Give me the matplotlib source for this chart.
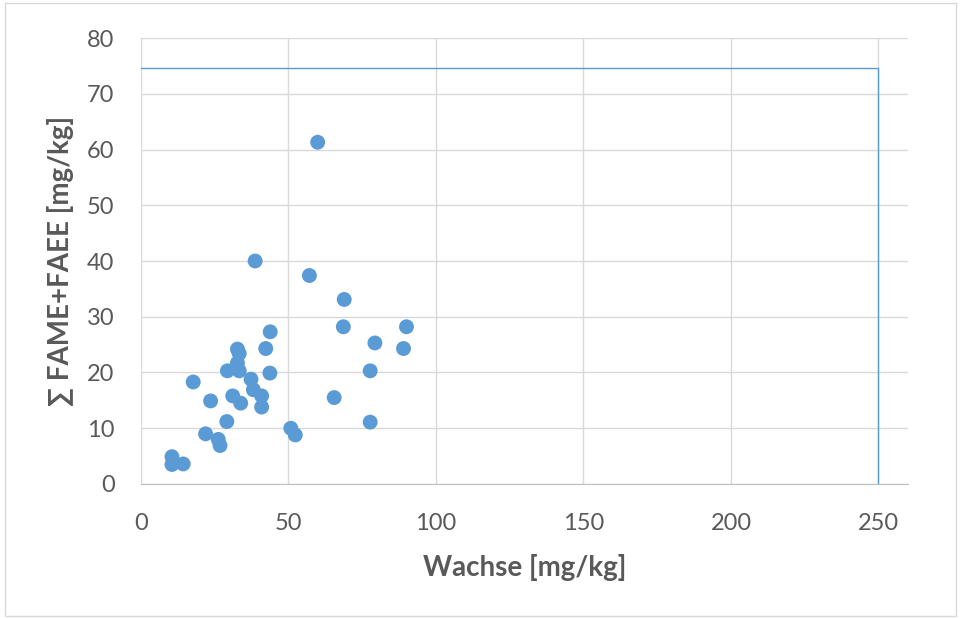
import matplotlib.pyplot as plt
from matplotlib.patches import Rectangle

# -----------------------------
# DATA
# -----------------------------
wachse = [59.9, 38.7, 57.1, 68.9, 43.8, 68.6, 90.0, 79.3, 89.0, 42.3,
          32.7, 33.3, 32.7, 29.3, 33.3, 43.7, 17.7, 37.3, 38.1, 40.9,
          40.9, 31.1, 33.8, 23.6, 29.1, 21.9, 26.2, 26.8, 10.5, 10.5,
          14.3, 50.8, 52.3, 77.7, 65.5, 77.7]
fame_faee = [61.3, 40.0, 37.4, 33.1, 27.3, 28.2, 28.2, 25.3, 24.3, 24.3,
             24.2, 23.4, 21.7, 20.3, 20.3, 19.9, 18.3, 18.8, 16.9, 15.8,
             13.8, 15.8, 14.5, 14.9, 11.2, 9.0, 8.0, 6.9, 4.9, 3.5,
             3.6, 10.0, 8.8, 20.3, 15.5, 11.1]

# limit line
limit_x = [0, 250, 250]
limit_y = [74.6, 74.6, 0]

x_ticks = [0, 50, 100, 150, 200, 250]
y_ticks = [0, 10, 20, 30, 40, 50, 60, 70, 80]

BLUE = "#5B9BD5"
GREY_TXT = "#595959"

# -----------------------------
# PLOT
# -----------------------------
plt.rcParams['font.family'] = ['Lato', 'DejaVu Sans']

fig = plt.figure(figsize=(9.61, 6.19), dpi=100)
fig.patches.append(Rectangle((0.005, 0.005), 0.99, 0.99, transform=fig.transFigure,
                             fill=False, edgecolor="#D9D9D9", linewidth=1))
ax = fig.add_axes([0.1467, 0.2181, 0.7981, 0.7205])

ax.plot(limit_x, limit_y, color=BLUE, linewidth=1, zorder=2)
ax.scatter(wachse, fame_faee, s=115, color=BLUE, edgecolors="none", zorder=3)

ax.set_xlim(0, 260)
ax.set_ylim(0, 80)
ax.set_xticks(x_ticks)
ax.set_yticks(y_ticks)
ax.grid(True, color="#D9D9D9", linewidth=1)
ax.set_axisbelow(True)

for s in ["top", "right", "left"]:
    ax.spines[s].set_visible(False)
ax.spines["bottom"].set_color("#BFBFBF")
ax.tick_params(length=0, labelsize=17, labelcolor=GREY_TXT)
ax.tick_params(axis="x", pad=21)
ax.tick_params(axis="y", pad=19)

ax.set_xlabel("Wachse [mg/kg]", fontsize=20, fontweight="bold", color=GREY_TXT, labelpad=14)
ax.set_ylabel("∑ FAME+FAEE [mg/kg]", fontsize=20, fontweight="bold", color=GREY_TXT, labelpad=9)

plt.savefig("out.png", dpi=100)
